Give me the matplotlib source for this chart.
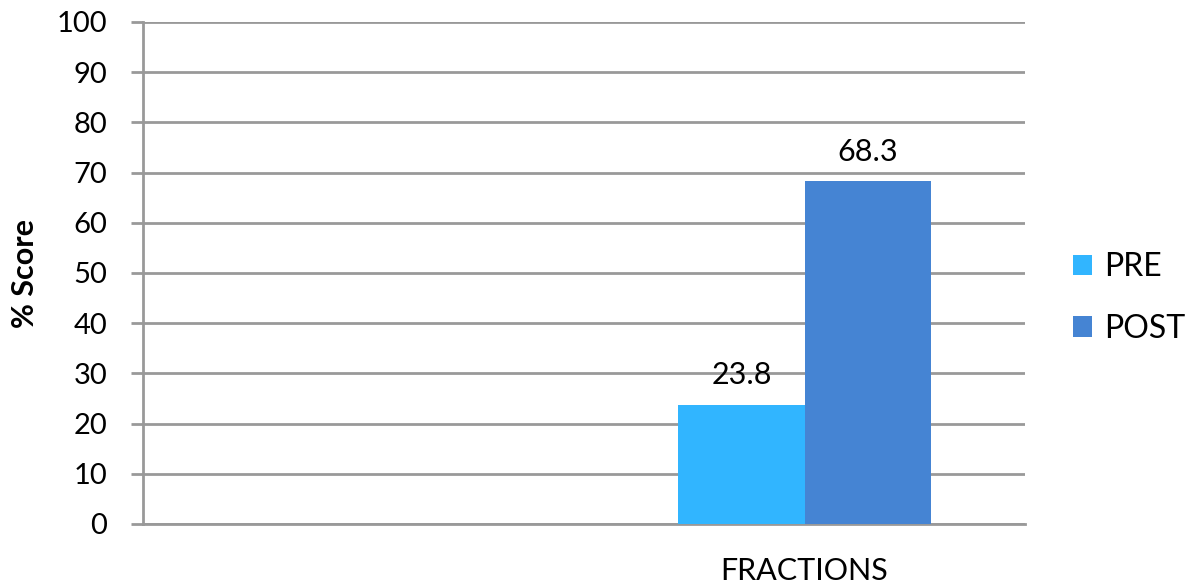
import matplotlib
matplotlib.use("Agg")
import matplotlib.pyplot as plt
import numpy as np

# Data
categories = ["", "FRACTIONS"]
series_names = ["PRE", "POST"]
pre_values = [None, 23.8]
post_values = [None, 68.3]
y_ticks = [0, 10, 20, 30, 40, 50, 60, 70, 80, 90, 100]

colors = {"PRE": "#31B5FF", "POST": "#4584D3"}
grid_color = "#999999"

plt.rcParams["font.family"] = ["Lato", "DejaVu Sans"]

fig = plt.figure(figsize=(11.96, 5.86), dpi=100)
ax = fig.add_axes([143 / 1196, 1 - 524 / 586, (1025 - 143) / 1196, (524 - 22) / 586])

x = np.arange(len(categories))
width = 0.286
for offset, name, vals in [(-width / 2, "PRE", pre_values), (width / 2, "POST", post_values)]:
    xs = [xi + offset for xi, v in zip(x, vals) if v is not None]
    vs = [v for v in vals if v is not None]
    bars = ax.bar(xs, vs, width=width, color=colors[name], label=name, zorder=3)
    for b, v in zip(bars, vs):
        ax.text(b.get_x() + b.get_width() / 2, v + 3.0, f"{v:.1f}",
                ha="center", va="bottom", fontsize=22, color="black", zorder=4)

ax.set_xlim(-0.5, 1.5)
ax.set_ylim(0, 100)
ax.set_yticks(y_ticks)
ax.set_xticks(x)
ax.set_xticklabels(categories)

ax.yaxis.grid(True, color=grid_color, linewidth=2, zorder=0)
ax.set_axisbelow(True)
for side in ["top", "right"]:
    ax.spines[side].set_visible(False)
ax.spines["left"].set_color(grid_color)
ax.spines["left"].set_linewidth(2)
ax.spines["bottom"].set_color(grid_color)
ax.spines["bottom"].set_linewidth(2)

ax.tick_params(axis="y", direction="out", length=8.6, width=2, color=grid_color,
               labelsize=21, pad=17)
ax.tick_params(axis="x", length=0, labelsize=22, pad=24)

ax.set_ylabel("% Score", fontsize=22, fontweight="bold")
ax.yaxis.set_label_coords(-0.118, 0.5)

ax.legend(loc="center left", bbox_to_anchor=(1.054, 0.45), frameon=False,
          fontsize=23, handlelength=0.62, handleheight=0.62, handletextpad=0.375,
          labelspacing=1.0, borderpad=0, borderaxespad=0)

fig.savefig("out.png", dpi=100)
